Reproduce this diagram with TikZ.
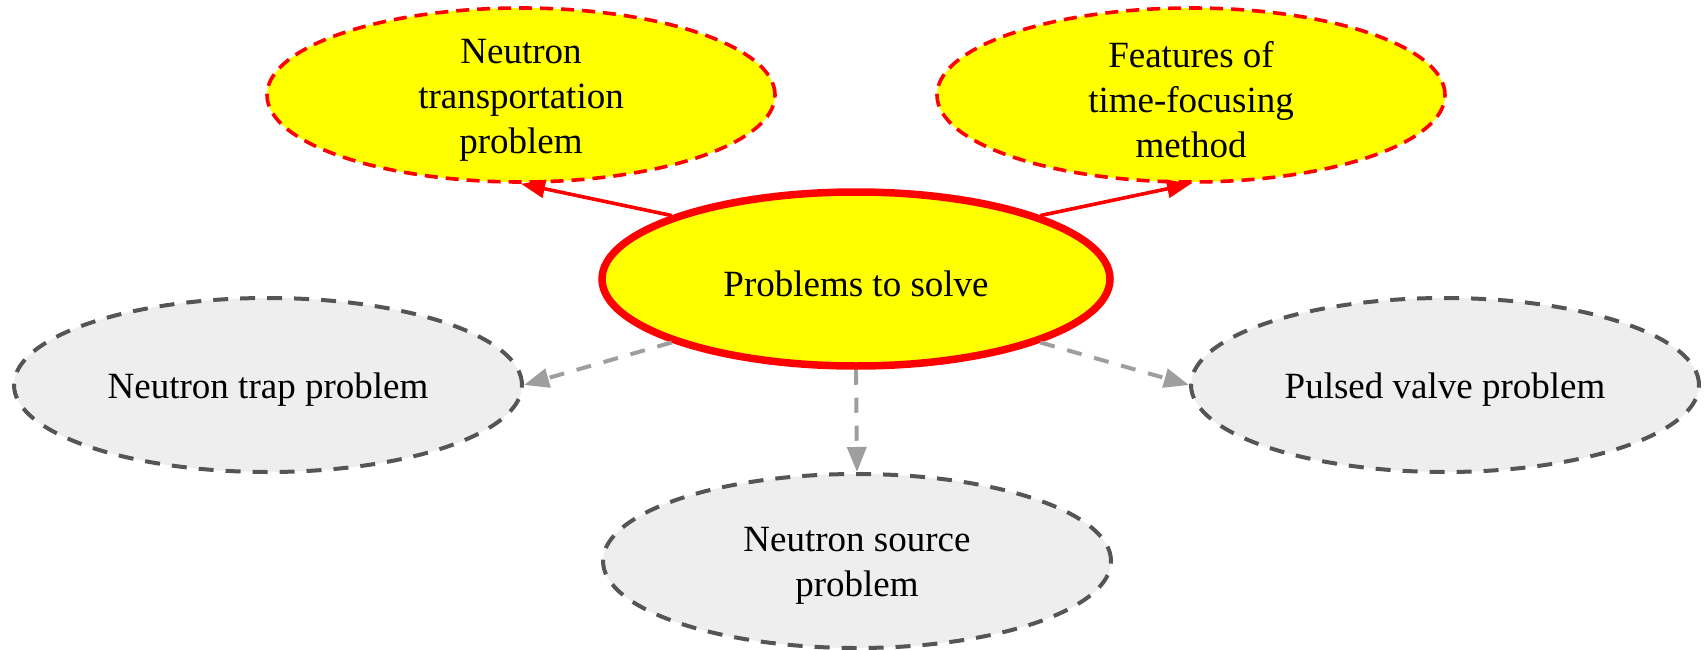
\documentclass[tikz,border=0pt]{standalone}
\usepackage{fontspec}
\setmainfont{Liberation Serif}
\usetikzlibrary{shapes.geometric,arrows.meta}
\definecolor{hotred}{HTML}{FF0000}
\definecolor{brightyellow}{HTML}{FFFF00}
\definecolor{palegray}{HTML}{EEEEEE}
\definecolor{rimgray}{HTML}{555555}
\definecolor{linkgray}{HTML}{9E9E9E}
\begin{document}
\begin{tikzpicture}[x=1pt,y=-1pt,
  topic/.style={ellipse, minimum width=508pt, minimum height=174pt, inner sep=0pt},
  caption/.style={font=\fontsize{37}{45}\selectfont, align=center, inner sep=0pt, yshift=-5pt},
  hubnode/.style={topic, fill=brightyellow, draw=hotred, line width=7.5pt},
  keynode/.style={topic, fill=brightyellow, draw=hotred, line width=3.6pt, dash pattern=on 13pt off 8pt},
  sidenode/.style={topic, fill=palegray, draw=rimgray, line width=4pt, dash pattern=on 15pt off 12pt},
  keylink/.style={draw=hotred, line width=3.6pt, -{Triangle[length=24pt,width=18pt]}},
  sidelink/.style={draw=linkgray, line width=4pt, dash pattern=on 15pt off 13pt, -{Triangle[length=25pt,width=19pt]}},
]
\useasboundingbox (0,0) rectangle (1705,650);

% ellipses
\node[hubnode]  (c)  at (856,279) {};
\node[keynode]  (tl) at (521,95)  {};
\node[keynode]  (tr) at (1191,95) {};
\node[sidenode] (lg) at (268,385) {};
\node[sidenode] (rg) at (1445,385) {};
\node[sidenode] (bg) at (857,561) {};

% captions
\node[caption] (c-t)  at (c)  {Problems to solve};
\node[caption] (tl-t) at (tl) {Neutron\\transportation\\problem};
\node[caption] (tr-t) at (tr) {Features of\\time-focusing\\method};
\node[caption] (lg-t) at (lg) {Neutron trap problem};
\node[caption] (rg-t) at (rg) {Pulsed valve problem};
\node[caption] (bg-t) at (bg) {Neutron source\\problem};

% connectors
\draw[keylink]  (c.161) -- (tl.south);
\draw[keylink]  (c.19)  -- (tr.south);
\draw[sidelink] (c.199) -- (lg.east);
\draw[sidelink] (c.341) -- (rg.west);
\draw[sidelink] (c.south) -- (bg.north);
\end{tikzpicture}
\end{document}
